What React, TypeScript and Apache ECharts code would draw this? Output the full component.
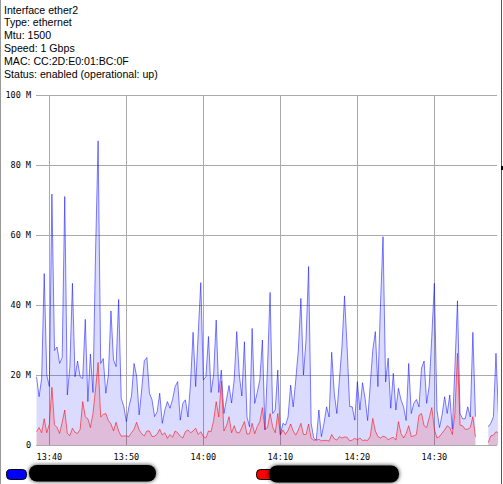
import React, { useEffect, useRef } from "react";
import * as echarts from "echarts";

const infoLines = [
  "Interface ether2",
  "Type: ethernet",
  "Mtu: 1500",
  "Speed: 1 Gbps",
  "MAC: CC:2D:E0:01:BC:0F",
  "Status: enabled (operational: up)",
];

// sample spacing of the graph (seconds) and first sample time
const stepSeconds = 20;
const firstSample = [13, 38, 20];
const axisStart = [13, 38, 16];
const axisEnd = [14, 38, 8];
const timeTicks = [
  [13, 40, 0],
  [13, 50, 0],
  [14, 0, 0],
  [14, 10, 0],
  [14, 20, 0],
  [14, 30, 0],
];

// Mbps, blue (tx) series; null = no data
const blueValues: (number | null)[] = [
  19.5, 13.8, 19, 49, 20, 16.7, 71.7, 27, 28, 23.3,
  25, 71, 14.3, 22.4, 46.2, 19.5, 24, 19.5, 19, 35.9,
  12.4, 26, 15, 55, 86.9, 23.3, 24.7, 14.8, 20, 38.3,
  24.3, 22.4, 41.6, 13.3, 11, 6.7, 10.9, 14, 23.3, 19.7,
  8.6, 16, 24.1, 25, 14.8, 12.9, 8.1, 9.5, 14.8, 6.2,
  10, 12.4, 10.5, 13, 16.7, 18.1, 7.1, 11.9, 12.9, 8,
  17.6, 32.2, 16.7, 31.9, 46.4, 18.6, 19.5, 31, 15, 20,
  35.7, 15, 21.4, 9, 13, 17, 12, 18.6, 32.4, 20,
  14, 29.5, 8, 5.2, 33.3, 11.9, 15, 18.6, 30, 4.3,
  22.4, 43.6, 9, 10, 21.4, 2.9, 6.2, 5.7, 8, 17.1,
  10.9, 18.6, 27.1, 41.9, 20, 30, 51, 6.2, 2, 1.4,
  10, 2.4, 6.2, 10.9, 8, 26.5, 14.8, 9, 18.6, 28,
  42.6, 28, 11, 10.9, 7.1, 18.1, 10, 17.8, 13.3, 7,
  17, 27.1, 32.4, 16.7, 40, 59.5, 18, 24.8, 10.5, 20.5,
  10, 16.2, 12.9, 10.9, 7, 23.3, 9, 11.9, 13, 10.9,
  22, 24, 11.9, 17, 31, 46.2, 10, 5, 8.6, 13.8,
  9, 14.3, 4.5, 22, 41.2, 9, 7.5, 7.5, 10.9, 8,
  32.2, 8.1, null, null, null, null, 5.2, 6.2, 8.1, 26.2,
  8.1,
];

// Mbps, red (rx) series; null = no data
const redValues: (number | null)[] = [
  3.8, 5, 3.5, 7.5, 3.5, 6, 16.5, 5.8, 5, 3.3,
  6.5, 10, 3.3, 2.7, 4.8, 3.6, 3.3, 4.5, 12.4, 8.1,
  7.5, 5, 9, 16, 23.6, 8, 8.7, 9, 7, 6,
  4, 6.5, 4, 2.5, 2.6, 2.6, 2.4, 3.5, 4.5, 6.5,
  4.3, 3.2, 2.6, 4, 4, 2.4, 2.5, 3.1, 4.5, 2.9,
  3.5, 1.9, 3, 2.2, 4, 3.5, 2.5, 2, 3.8, 4.3,
  3.5, 4, 4.8, 3, 3.8, 2.4, 2, 4, 3.8, 7,
  12.4, 8, 18.3, 4, 5.5, 8.1, 3.5, 5.5, 3.5, 3.5,
  5, 6.7, 3.1, 3.2, 6.2, 3.2, 5.3, 6.7, 10.7, 4.5,
  5, 9, 5.2, 3.5, 9, 2.9, 4.3, 3, 4.2, 6,
  4, 2.8, 4.3, 6.2, 3, 3, 6, 1.9, 1.4, 1.4,
  1.6, 1.2, 1.3, 1.3, 1.1, 3, 1.8, 1.4, 2.4, 2,
  2.3, 2.2, 1.2, 1.4, 1.9, 1.5, 2, 1.3, 1.4, 1.3,
  2.4, 7.6, 4, 2.4, 2, 2.5, 2.3, 1.5, 1.9, 2.2,
  1.4, 6.7, 3.3, 2, 3.3, 5.5, 2.4, 2.6, 3, 8.5,
  9, 5.5, 5, 7.8, 10.7, 4.5, 2, 2.4, 3.4, 4.3,
  5.5, 5, 3, 9, 26.2, 5.7, 5.5, 4.5, 4.5, 5,
  8.1, 2.3, null, null, null, null, 0.7, 2.6, 2.8, 3.8,
  3.3,
];

const yMax = 100;
const yStep = 20;

const FONT_MONO = "DejaVu Sans Mono";
const FONT_SANS = "Liberation Sans";

function t(hms: number[]) {
  return new Date(2024, 0, 1, hms[0], hms[1], hms[2]).getTime();
}

function pad(n: number) {
  return (n < 10 ? "0" : "") + n;
}

export default function App() {
  const ref = useRef<HTMLDivElement>(null);

  useEffect(() => {
    if (!ref.current) return;
    const chart = echarts.init(ref.current, undefined, { renderer: "svg" });
    const base = t(firstSample);
    const toPairs = (vals: (number | null)[]) =>
      vals.map((v, i) => [base + i * stepSeconds * 1000, v === null ? "-" : v]);
    const tickValues = timeTicks.map(t);

    const gridColor = "#aaaaaa";

    chart.setOption({
      animation: false,
      backgroundColor: "#ffffff",
      grid: {
        left: 36,
        right: 6,
        top: 95,
        bottom: 39,
        containLabel: false,
        outerBoundsMode: "none",
      },
      xAxis: {
        type: "value",
        min: t(axisStart),
        max: t(axisEnd),
        axisLine: { show: false },
        axisTick: { show: false, customValues: tickValues },
        splitLine: { show: true, lineStyle: { color: gridColor, width: 1 } },
        axisLabel: {
          customValues: tickValues,
          formatter: (v: number) => {
            const d = new Date(v);
            return pad(d.getHours()) + ":" + pad(d.getMinutes());
          },
          color: "#000",
          fontFamily: FONT_MONO,
          fontSize: 8.5,
          margin: 7,
          hideOverlap: false,
        },
      },
      yAxis: {
        type: "value",
        min: 0,
        max: yMax,
        interval: yStep,
        axisLine: { show: false },
        axisTick: { show: false },
        splitLine: { show: true, lineStyle: { color: gridColor, width: 1 } },
        axisLabel: {
          formatter: (v: number) => (v === 0 ? "0" : v + " M"),
          color: "#000",
          fontFamily: FONT_MONO,
          fontSize: 8.5,
          margin: 5,
        },
      },
      series: [
        {
          type: "line",
          data: toPairs(blueValues),
          symbol: "none",
          silent: true,
          z: 2,
          lineStyle: { color: "rgba(0,0,255,0.5)", width: 1 },
          itemStyle: { color: "rgba(0,0,255,0.5)" },
          areaStyle: { color: "rgba(0,0,255,0.2)" },
        },
        {
          type: "line",
          data: toPairs(redValues),
          symbol: "none",
          silent: true,
          z: 3,
          lineStyle: { color: "rgba(255,0,0,0.55)", width: 1 },
          itemStyle: { color: "rgba(255,0,0,0.55)" },
          areaStyle: { color: "rgba(255,0,0,0.2)" },
        },
      ],
      graphic: [
        ...infoLines.map((line, i) => ({
          type: "text",
          left: 4,
          top: 4 + i * 12.87,
          style: {
            text: line,
            fill: "#000",
            font: `10.6px "${FONT_SANS}"`,
          },
        })),
        {
          type: "line",
          shape: { x1: 0.5, y1: 0, x2: 0.5, y2: 484 },
          style: { stroke: "#9a9a9a", lineWidth: 1 },
        },
        {
          type: "line",
          shape: { x1: 501.5, y1: 0, x2: 501.5, y2: 484 },
          style: { stroke: "#555555", lineWidth: 1 },
        },
        {
          type: "rect",
          shape: { x: 501, y: 166, width: 2, height: 4 },
          style: { fill: "#000" },
        },
        {
          type: "rect",
          shape: { x: 6.5, y: 469.5, width: 20, height: 10, r: 4 },
          style: { fill: "#0000ff", stroke: "#000", lineWidth: 1 },
        },
        {
          type: "rect",
          shape: { x: 256.5, y: 469.5, width: 20, height: 10, r: 4 },
          style: { fill: "#ff0000", stroke: "#000", lineWidth: 1 },
        },
        {
          type: "rect",
          shape: { x: 29, y: 465, width: 127, height: 16.5, r: 8 },
          style: { fill: "#000", shadowBlur: 4, shadowColor: "rgba(0,0,0,0.8)" },
        },
        {
          type: "rect",
          shape: { x: 269, y: 465.5, width: 130, height: 17, r: 8 },
          style: { fill: "#000", shadowBlur: 4, shadowColor: "rgba(0,0,0,0.8)" },
        },
      ],
    });

    return () => chart.dispose();
  }, []);

  return (
    <div
      ref={ref}
      style={{ position: "fixed", left: 0, top: 0, width: 503, height: 484 }}
    />
  );
}
